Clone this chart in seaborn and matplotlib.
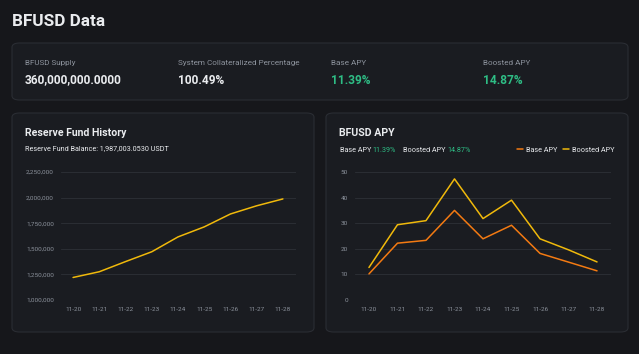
import matplotlib
matplotlib.use("Agg")
import matplotlib.pyplot as plt
from matplotlib.patches import FancyBboxPatch
import seaborn as sns
import pandas as pd

# data
dates = ["11-20", "11-21", "11-22", "11-23", "11-24", "11-25", "11-26", "11-27", "11-28"]
reserve_fund = [1220000, 1276000, 1375000, 1471000, 1616000, 1714000, 1840000, 1920000, 1987003]
base_apy = [10.2, 22.2, 23.3, 35.0, 23.9, 29.2, 18.2, 14.8, 11.39]
boosted_apy = [12.7, 29.4, 31.0, 47.3, 31.8, 39.0, 23.9, 19.6, 14.87]

stat_labels = ["BFUSD Supply", "System Collateralized Percentage", "Base APY", "Boosted APY"]
stat_values = ["360,000,000.0000", "100.49%", "11.39%", "14.87%"]

BG = "#16171b"
CARD = "#1a1c21"
EDGE = "#2a2d33"
GRID = "#2a2d33"
MUTED = "#8c929c"
WHITE = "#eaecef"
GREEN = "#2ebd85"
YELLOW = "#f0b90b"
ORANGE = "#f37a12"

W, H = 639, 354
sns.set_theme(style="dark")
plt.rcParams["font.family"] = ["Roboto", "DejaVu Sans"]

fig = plt.figure(figsize=(W / 100, H / 100), dpi=100, facecolor=BG)


def fx(x):
    return x / W


def fy(y):
    return 1 - y / H


def card(x0, y0, x1, y1):
    fig.patches.append(FancyBboxPatch((fx(x0), fy(y1)), fx(x1 - x0), (y1 - y0) / H,
                                      boxstyle="round,pad=0,rounding_size=0.012",
                                      transform=fig.transFigure, facecolor=CARD,
                                      edgecolor=EDGE, linewidth=0.8, zorder=-5))


def text(x, y, s, size, color=WHITE, weight="normal"):
    fig.text(fx(x), fy(y), s, fontsize=size, color=color, weight=weight, va="center", ha="left")


text(12, 22, "BFUSD Data", 12.3, weight="bold")

card(12, 43, 628, 100)
stat_x = [25, 178, 331, 483]
for i in range(len(stat_labels)):
    text(stat_x[i], 63, stat_labels[i], 5.9, MUTED)
    col = GREEN if i >= 2 else WHITE
    text(stat_x[i], 80, stat_values[i], 8.6, col, "bold")

card(12, 113, 314, 332)
card(326, 113, 628, 332)

text(25, 133, "Reserve Fund History", 7.6, weight="bold")
text(25, 149, "Reserve Fund Balance: 1,987,003.0530 USDT", 5.2)

text(339, 133, "BFUSD APY", 7.6, weight="bold")
text(340, 150, "Base APY", 5.2)
text(372.5, 150, "11.39%", 5.2, GREEN)
text(403, 150, "Boosted APY", 5.2)
text(447.5, 150, "14.87%", 5.2, GREEN)

reserve_df = pd.DataFrame({"date": dates, "value": reserve_fund})
apy_df = pd.DataFrame({
    "date": dates * 2,
    "apy": base_apy + boosted_apy,
    "series": ["Base APY"] * len(dates) + ["Boosted APY"] * len(dates),
})


def style_axes(ax):
    ax.set_facecolor(CARD)
    ax.patch.set_alpha(0)
    for s in ax.spines.values():
        s.set_visible(False)
    ax.grid(axis="y", color=GRID, linewidth=0.8)
    ax.grid(axis="x", visible=False)
    ax.tick_params(axis="both", colors=MUTED, labelsize=4.6, length=0, pad=5)
    ax.set_xlabel("")
    ax.set_ylabel("")


ax1 = fig.add_axes([fx(61), fy(300), fx(296 - 61), (300 - 172) / H])
sns.lineplot(data=reserve_df, x="date", y="value", ax=ax1, color=YELLOW, linewidth=1.1, sort=False)
ax1.set_ylim(1000000, 2250000)
ticks1 = [1000000, 1250000, 1500000, 1750000, 2000000, 2250000]
ax1.set_yticks(ticks1)
ax1.set_yticklabels([f"{v:,}" for v in ticks1])
ax1.set_xlim(-0.46, 8.5)
style_axes(ax1)

ax2 = fig.add_axes([fx(355), fy(300), fx(611 - 355), (300 - 172) / H])
sns.lineplot(data=apy_df, x="date", y="apy", hue="series", ax=ax2,
             palette={"Base APY": ORANGE, "Boosted APY": YELLOW}, linewidth=1.1, sort=False)
ax2.set_ylim(0, 50)
ax2.set_yticks([0, 10, 20, 30, 40, 50])
ax2.set_xlim(-0.49, 8.49)
style_axes(ax2)
leg = ax2.legend(loc="center right", bbox_to_anchor=(fx(618), fy(150)), bbox_transform=fig.transFigure,
                 ncol=2, frameon=False, fontsize=5.2, handlelength=0.8, handletextpad=0.4,
                 columnspacing=0.8, borderpad=0)
for t in leg.get_texts():
    t.set_color(WHITE)

fig.savefig("out.png", dpi=100, facecolor=BG)
